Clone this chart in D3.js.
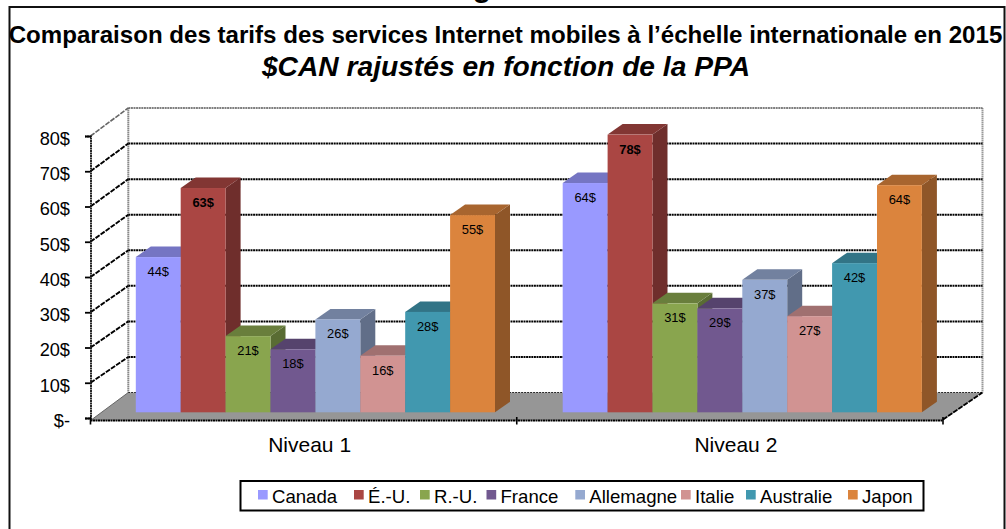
<!DOCTYPE html>
<html><head><meta charset="utf-8">
<script src="https://cdn.jsdelivr.net/npm/d3@7"></script>
<style>html,body{margin:0;padding:0;background:#fff}svg{display:block}text{font-family:"Liberation Sans",Arial,sans-serif;fill:#000}</style>
</head><body><svg id="c" width="1006" height="529"></svg>
<script>
const categories = ["Niveau 1", "Niveau 2"];
const seriesNames = ["Canada", "É.-U.", "R.-U.", "France", "Allemagne", "Italie", "Australie", "Japon"];
const seriesColors = ["#9999ff", "#aa4643", "#89a54e", "#71588f", "#95a9d0", "#d19392", "#4198af", "#db843d"];
const niveau1 = [43.6, 63, 21.4, 17.7, 26.1, 15.9, 28.2, 55.4];
const niveau2 = [64.4, 78, 30.6, 29.2, 37.2, 27, 41.9, 63.8];
const yTicks = [0, 10, 20, 30, 40, 50, 60, 70, 80];
const boldSeries = ["É.-U."];

const svg = d3.select("#c");
// depth offset of the 3D box
const frontL = 90.5, frontR = 943, frontB = 420.5, backL = 128.3, backR = 982.5;
const yFront = d3.scaleLinear().domain([0, 80]).range([418, 136]);
const yBack = d3.scaleLinear().domain([0, 80]).range([392.5, 108]);
const yBar = d3.scaleLinear().domain([0, 80]).range([412.3, 127.5]);
const xGroup = d3.scaleBand().domain(categories).range([frontL, frontR]);
const barW = 44.9, dxB = 15, dyB = -10.5;

// outer frame and the clipped heading above it
svg.append("text").attr("x", 482).attr("y", -3).attr("font-size", 30).attr("font-weight", "bold").attr("text-anchor", "middle").text("g");
svg.append("rect").attr("x", 9.5).attr("y", 7).attr("width", 995).attr("height", 540)
  .attr("fill", "#fff").attr("stroke", "#111").attr("stroke-width", 2);

svg.append("text").attr("x", 505.5).attr("y", 43).attr("text-anchor", "middle").attr("font-size", 24.1).attr("font-weight", "bold")
  .text("Comparaison des tarifs des services Internet mobiles à l’échelle internationale en 2015");
svg.append("text").attr("x", 506).attr("y", 75.5).attr("text-anchor", "middle").attr("font-size", 28.2).attr("font-weight", "bold").attr("font-style", "italic")
  .text("$CAN rajustés en fonction de la PPA");

// back wall
svg.append("rect").attr("x", backL).attr("y", yBack(80)).attr("width", backR - backL).attr("height", yBack(0) - yBack(80))
  .attr("fill", "#fff");
svg.append("line").attr("x1", backL).attr("x2", backL).attr("y1", yBack(80)).attr("y2", yBack(0)).attr("stroke", "#888").attr("stroke-width", 2).attr("stroke-dasharray", "1.5 .5");
svg.append("line").attr("x1", backR).attr("x2", backR).attr("y1", yBack(80)).attr("y2", yBack(0)).attr("stroke", "#999").attr("stroke-width", 2).attr("stroke-dasharray", "1.5 .5");
// floor
svg.append("polygon").attr("fill", "#969696")
  .attr("points", [[frontL, frontB], [backL, yBack(0)], [backR, yBack(0)], [frontR, frontB]].join(" "));

// gridlines: back wall and left wall
const grid = svg.append("g");
yTicks.forEach(t => {
  grid.append("line").attr("x1", backL).attr("x2", backR).attr("y1", yBack(t)).attr("y2", yBack(t))
    .attr("stroke", t === 80 ? "#555" : "#000").attr("stroke-width", t === 80 ? 1.4 : t === 0 ? 1 : 2).attr("stroke-dasharray", t === 0 ? "1.5 1.5" : "2 .6");
  if (t > 0) {
    grid.append("line").attr("x1", frontL).attr("x2", backL).attr("y1", yFront(t)).attr("y2", yBack(t))
      .attr("stroke", t === 80 ? "#666" : "#000").attr("stroke-width", t === 80 ? 1.6 : 1.9).attr("stroke-dasharray", "5 1.2");
  }
});
// left wall edge and front-right floor edge
svg.append("line").attr("x1", frontL).attr("x2", backL).attr("y1", frontB).attr("y2", yBack(0)).attr("stroke", "#666").attr("stroke-width", 1);
svg.append("line").attr("x1", frontR).attr("x2", backR).attr("y1", frontB - 1).attr("y2", yBack(0)).attr("stroke", "#000").attr("stroke-width", 1.8).attr("stroke-dasharray", "5 1.2");

// value axis
const yAxis = d3.axisLeft(yFront).tickValues(yTicks).tickSize(5.5).tickPadding(15).tickFormat(d => d === 0 ? "$-" : d + "$");
const ya = svg.append("g").attr("transform", `translate(${frontL},0)`).call(yAxis);
ya.selectAll("path.domain").attr("stroke", "#111").attr("stroke-width", 1.8).attr("stroke-dasharray", "2 .5");
ya.selectAll(".tick line").attr("stroke", "#000").attr("stroke-width", 1.8);
ya.selectAll("text").attr("font-size", 18.2).attr("dy", "0.46em").attr("font-family", '"Liberation Sans",Arial,sans-serif');

// category axis
svg.append("line").attr("x1", frontL).attr("x2", frontR).attr("y1", frontB).attr("y2", frontB)
  .attr("stroke", "#000").attr("stroke-width", 1.8).attr("stroke-dasharray", "2 .5");
[frontL, xGroup("Niveau 2"), frontR].forEach(x => {
  svg.append("line").attr("x1", x).attr("x2", x).attr("y1", 417).attr("y2", 424.5).attr("stroke", "#000").attr("stroke-width", 1.6);
});
svg.selectAll("text.cat").data(categories).enter().append("text").attr("class", "cat")
  .attr("x", d => xGroup(d) + xGroup.bandwidth() / 2 + 6).attr("y", 451.7).attr("text-anchor", "middle").attr("font-size", 21).text(d => d);

// bars
const x0 = { "Niveau 1": 135.8, "Niveau 2": 562.7 };
const values = { "Niveau 1": niveau1, "Niveau 2": niveau2 };
const shade = (c, k) => d3.rgb(c).darker(k).formatHex();
const fmt = d3.format(".0f");
categories.forEach(cat => {
  const g = svg.append("g");
  values[cat].forEach((v, i) => {
    const x = x0[cat] + i * barW, y = yBar(v), b = yBar(0), c = seriesColors[i];
    g.append("polygon").attr("fill", shade(c, 1.2))
      .attr("points", [[x + barW, y], [x + barW + dxB, y + dyB], [x + barW + dxB, b + dyB], [x + barW, b]].join(" "));
    g.append("polygon").attr("fill", shade(c, .75))
      .attr("points", [[x, y], [x + dxB, y + dyB], [x + barW + dxB, y + dyB], [x + barW, y]].join(" "));
    g.append("rect").attr("x", x).attr("y", y).attr("width", barW).attr("height", b - y).attr("fill", c);
  });
  values[cat].forEach((v, i) => {
    const x = x0[cat] + i * barW, y = yBar(v);
    g.append("text").attr("x", x + barW / 2).attr("y", y + 19).attr("text-anchor", "middle").attr("font-size", 12.9)
      .attr("font-weight", boldSeries.includes(seriesNames[i]) ? "bold" : "normal").text(fmt(v) + "$");
  });
});

// legend
svg.append("rect").attr("x", 240.5).attr("y", 481).attr("width", 683).attr("height", 29.5).attr("fill", "#fff").attr("stroke", "#000").attr("stroke-width", 2);
const legendSwatchX = [258, 354, 420, 486.5, 575.3, 681, 746, 848];
seriesNames.forEach((n, i) => {
  svg.append("rect").attr("x", legendSwatchX[i]).attr("y", 490).attr("width", 9.7).attr("height", 9.5).attr("fill", seriesColors[i]);
  svg.append("text").attr("x", legendSwatchX[i] + 14).attr("y", 502.8).attr("font-size", 18.6).text(n);
});
</script></body></html>
